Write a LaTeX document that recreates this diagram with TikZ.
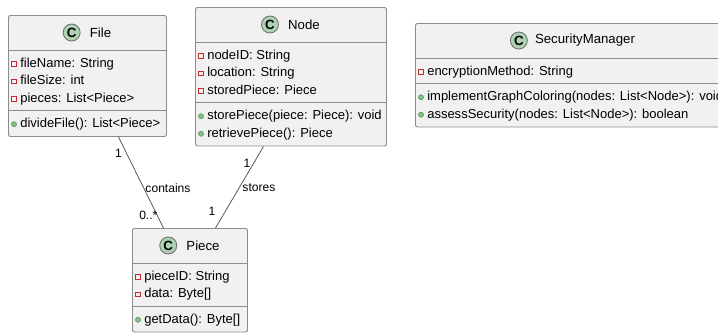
\documentclass[tikz,border=0pt]{standalone}
\usepackage{fontspec}
\setmainfont{Liberation Sans}
\usetikzlibrary{positioning, calc}
\definecolor{boxfill}{HTML}{F1F1F1}
\definecolor{boxline}{HTML}{8C8C8C}
\definecolor{linkgray}{HTML}{555555}
\definecolor{iconfill}{HTML}{ADD1B2}
\definecolor{iconline}{HTML}{6E6E6E}
\definecolor{privred}{HTML}{C82930}
\definecolor{pubgreen}{HTML}{84BE84}
\definecolor{publine}{HTML}{3C8C4C}

\begin{document}
\begin{tikzpicture}[
  x=0.25mm, y=-0.25mm,
  umlbox/.style={draw=boxline, fill=boxfill, line width=0.7pt, rounded corners=1.5pt, anchor=north west, inner sep=0pt},
  cicon/.style={circle, draw=iconline, fill=iconfill, line width=0.6pt, minimum size=4.25mm, inner sep=0pt, font=\fontsize{9.5pt}{9.5pt}\selectfont\bfseries},
  title/.style={inner sep=0pt, font=\fontsize{9.4pt}{11pt}\selectfont},
  member/.style={anchor=base west, inner sep=0pt, font=\fontsize{9.25pt}{11pt}\selectfont},
  priv/.style={draw=privred, line width=0.5pt, minimum size=1.2mm, inner sep=0pt},
  pub/.style={circle, draw=publine, fill=pubgreen, line width=0.3pt, minimum size=1.3mm, inner sep=0pt},
  sep/.style={draw=boxline, line width=0.7pt},
  assoc/.style={draw=linkgray, line width=0.55pt},
  mult/.style={inner sep=1pt, font=\fontsize{8.6pt}{10pt}\selectfont}
]
\clip (0,0) rectangle (718,334);

% class boxes
\node[umlbox, minimum width=39.5mm, minimum height=30.25mm] (File) at (8,15) {};
\node[umlbox, minimum width=47.75mm, minimum height=34.625mm] (Node) at (195,7) {};
\node[umlbox, minimum width=80mm, minimum height=25.875mm] (SecMgr) at (415,23) {};
\node[umlbox, minimum width=28.75mm, minimum height=25.875mm] (Piece) at (132,228) {};

% headers
\node[title] (File-name) at ($(File.north)+(13,17.5)$) {File};
\node[cicon, left=2.25mm of File-name] (File-icon) {C};
\node[title] (Node-name) at ($(Node.north)+(13,17.5)$) {Node};
\node[cicon, left=2.25mm of Node-name] (Node-icon) {C};
\node[title] (SecMgr-name) at ($(SecMgr.north west)+(170,17.5)$) {SecurityManager};
\node[cicon, left=1.75mm of SecMgr-name] (SecMgr-icon) {C};
\node[title] (Piece-name) at ($(Piece.north)+(13,17.5)$) {Piece};
\node[cicon, left=2.25mm of Piece-name] (Piece-icon) {C};

% File
\draw[sep] ($(File.north west)+(0,35)$) -- ($(File.north east)+(0,35)$);
\draw[sep] ($(File.north west)+(0,95.5)$) -- ($(File.north east)+(0,95.5)$);
\foreach \txt [count=\i] in {fileName: String, fileSize: int, pieces: List<Piece>} {
  \node[priv] (File-p\i) at ($(File.north west)+(6,31.25+17.5*\i)$) {};
  \node[member] (File-a\i) at ($(File.north west)+(12,34.75+17.5*\i)$) {\txt};
}
\node[pub] (File-q1) at ($(File.north west)+(6,91.75+17.5)$) {};
\node[member] (File-m1) at ($(File.north west)+(12,95.25+17.5)$) {divideFile(): List<Piece>};

% Node
\draw[sep] ($(Node.north west)+(0,35)$) -- ($(Node.north east)+(0,35)$);
\draw[sep] ($(Node.north west)+(0,95.5)$) -- ($(Node.north east)+(0,95.5)$);
\foreach \txt [count=\i] in {nodeID: String, location: String, storedPiece: Piece} {
  \node[priv] (Node-p\i) at ($(Node.north west)+(6,31.25+17.5*\i)$) {};
  \node[member] (Node-a\i) at ($(Node.north west)+(12,34.75+17.5*\i)$) {\txt};
}
\foreach \txt [count=\i] in {storePiece(piece: Piece): void, retrievePiece(): Piece} {
  \node[pub] (Node-q\i) at ($(Node.north west)+(6,91.75+17.5*\i)$) {};
  \node[member] (Node-m\i) at ($(Node.north west)+(12,95.25+17.5*\i)$) {\txt};
}

% SecurityManager
\draw[sep] ($(SecMgr.north west)+(0,35)$) -- ($(SecMgr.north east)+(0,35)$);
\draw[sep] ($(SecMgr.north west)+(0,60.5)$) -- ($(SecMgr.north east)+(0,60.5)$);
\node[priv] (SecMgr-p1) at ($(SecMgr.north west)+(6,31.25+17.5)$) {};
\node[member] (SecMgr-a1) at ($(SecMgr.north west)+(12,34.75+17.5)$) {encryptionMethod: String};
\foreach \txt [count=\i] in {implementGraphColoring(nodes: List<Node>): void, assessSecurity(nodes: List<Node>): boolean} {
  \node[pub] (SecMgr-q\i) at ($(SecMgr.north west)+(6,56.75+17.5*\i)$) {};
  \node[member] (SecMgr-m\i) at ($(SecMgr.north west)+(12,60.25+17.5*\i)$) {\txt};
}

% Piece
\draw[sep] ($(Piece.north west)+(0,35)$) -- ($(Piece.north east)+(0,35)$);
\draw[sep] ($(Piece.north west)+(0,78)$) -- ($(Piece.north east)+(0,78)$);
\foreach \txt [count=\i] in {pieceID: String, data: Byte[]} {
  \node[priv] (Piece-p\i) at ($(Piece.north west)+(6,31.25+17.5*\i)$) {};
  \node[member] (Piece-a\i) at ($(Piece.north west)+(12,34.75+17.5*\i)$) {\txt};
}
\node[pub] (Piece-q1) at ($(Piece.north west)+(6,74.25+17.5)$) {};
\node[member] (Piece-m1) at ($(Piece.north west)+(12,77.75+17.5)$) {getData(): Byte[]};

% associations
\draw[assoc] ($(File.south)+(31,0)$) --
  node[mult, pos=0.18, anchor=east, xshift=-0.75mm] (contains-from) {1}
  node[mult, pos=0.56, anchor=west] (contains-label) {contains}
  node[mult, pos=0.86, anchor=east, xshift=0.5mm] (contains-to) {0..*}
  ($(Piece.north)+(-26.5,0)$);
\draw[assoc] ($(Node.south)+(-27.5,0)$) --
  node[mult, pos=0.21, anchor=east, xshift=-0.3mm] (stores-from) {1}
  node[mult, pos=0.5, anchor=west, xshift=0.3mm] (stores-label) {stores}
  node[mult, pos=0.8, anchor=east, xshift=-2mm] (stores-to) {1}
  ($(Piece.north)+(25.5,0)$);
\end{tikzpicture}
\end{document}
